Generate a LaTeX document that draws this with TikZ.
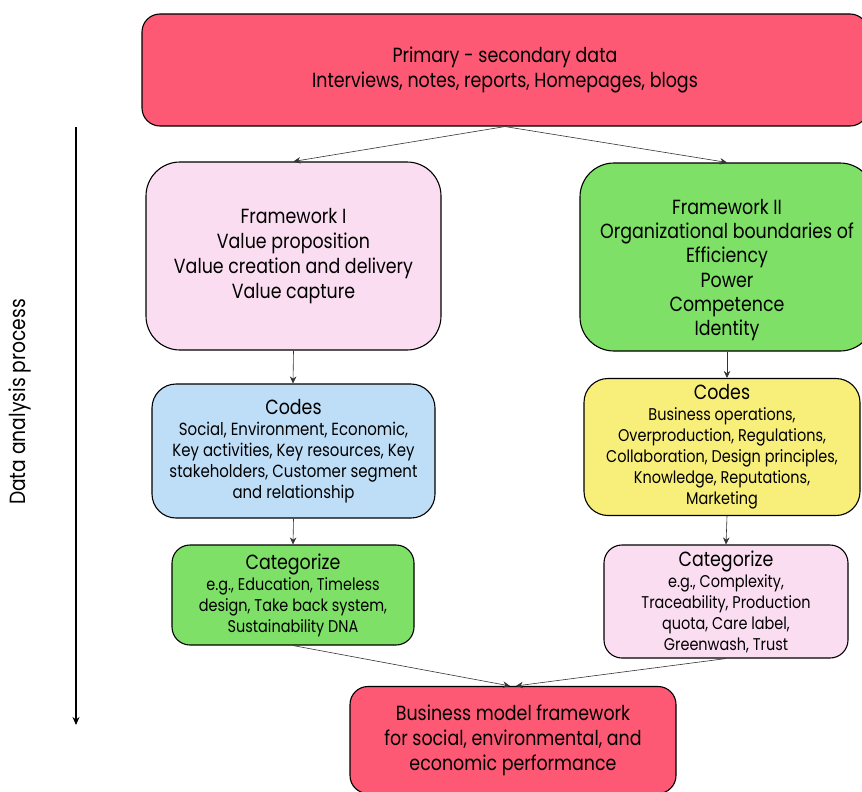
\documentclass[tikz,border=0pt]{standalone}
\usepackage{fontspec}
\setmainfont{Poppins}[FakeStretch=0.85]
\usetikzlibrary{arrows.meta}
\definecolor{cred}{HTML}{FD5874}
\definecolor{cgreen}{HTML}{7EE066}
\definecolor{cpink}{HTML}{FBDDF2}
\definecolor{cblue}{HTML}{BEDEF8}
\definecolor{cyellow}{HTML}{F8EF7B}
\tikzset{
  box/.style={draw=black, line width=1.1pt, align=center, inner sep=0pt, font=\fontsize{20.5}{25}\selectfont},
  small/.style={font=\fontsize{17}{21}\selectfont},
  conn/.style={draw=black!80, line width=0.6pt, -{Stealth[length=7pt,width=6.5pt]}},
}
\newcommand{\ttl}[1]{{\fontsize{20.5}{22}\selectfont #1}}
\begin{document}
\begin{tikzpicture}[x=1pt,y=-1pt]
\useasboundingbox (0,0) rectangle (862,792);
\clip (0,0) rectangle (862,792);
\node[box, fill=cred, rounded corners=18pt, minimum width=726pt, minimum height=112pt] (top) at (505,70)
  {Primary - secondary data\\Interviews, notes, reports, Homepages, blogs};
\node[box, fill=cpink, rounded corners=34pt, minimum width=295pt, minimum height=188pt] (fw1) at (293.5,256)
  {Framework I\\Value proposition\\Value creation and delivery\\Value capture};
\node[box, fill=cgreen, rounded corners=34pt, minimum width=294pt, minimum height=188pt] (fw2) at (727,257) {};
\node[align=center, inner sep=0pt, font=\fontsize{20.5}{24.2}\selectfont] (fw2t) at ([yshift=-13pt]fw2.center)
  {Framework II\\Organizational boundaries of\\Efficiency\\Power\\Competence\\Identity};
\node[box, small, fill=cblue, rounded corners=24pt, minimum width=283pt, minimum height=134pt, font=\fontsize{17.6}{21}\selectfont] (c1) at (293.5,451)
  {\ttl{Codes}\\Social, Environment, Economic,\\Key activities, Key resources, Key\\stakeholders, Customer segment\\and relationship};
\node[box, small, fill=cyellow, rounded corners=24pt, minimum width=276pt, minimum height=137pt] (c2) at (722,447)
  {\ttl{Codes}\\Business operations,\\Overproduction, Regulations,\\Collaboration, Design principles,\\Knowledge, Reputations,\\Marketing};
\node[box, small, fill=cgreen, rounded corners=18pt, minimum width=242pt, minimum height=100pt] (k1) at (293,595)
  {\ttl{Categorize}\\e.g., Education, Timeless\\design, Take back system,\\Sustainability DNA};
\node[box, small, fill=cpink, rounded corners=18pt, minimum width=244pt, minimum height=113pt] (k2) at (726,601.5)
  {\ttl{Categorize}\\e.g., Complexity,\\Traceability, Production\\quota, Care label,\\Greenwash, Trust};
\node[box, fill=cred, rounded corners=18pt, minimum width=326pt, minimum height=107pt] (bm) at (513,740)
  {Business model framework\\for social, environmental, and\\economic performance};
\coordinate (a1) at (76,127);
\coordinate (a2) at (76,725);
\draw[line width=1.6pt, -{Stealth[length=8pt,width=7pt]}] (a1) -- (a2);
\node[rotate=90, font=\fontsize{22}{24}\selectfont] (lab) at (20,402) {Data analysis process};
\draw[conn] (top.south) -- (fw1.north);
\draw[conn] (top.south) -- (fw2.north);
\draw[conn] (fw1.south) -- ([xshift=-0.5pt]c1.north);
\draw[conn] (fw2.south) -- ([xshift=5pt]c2.north);
\draw[conn] (c1.south) -- (k1.north);
\draw[conn] ([xshift=5pt]c2.south) -- (k2.north);
\draw[conn] (k1.south) -- ([xshift=-3pt]bm.north);
\draw[conn] (k2.south) -- ([xshift=3pt]bm.north);
\end{tikzpicture}
\end{document}
